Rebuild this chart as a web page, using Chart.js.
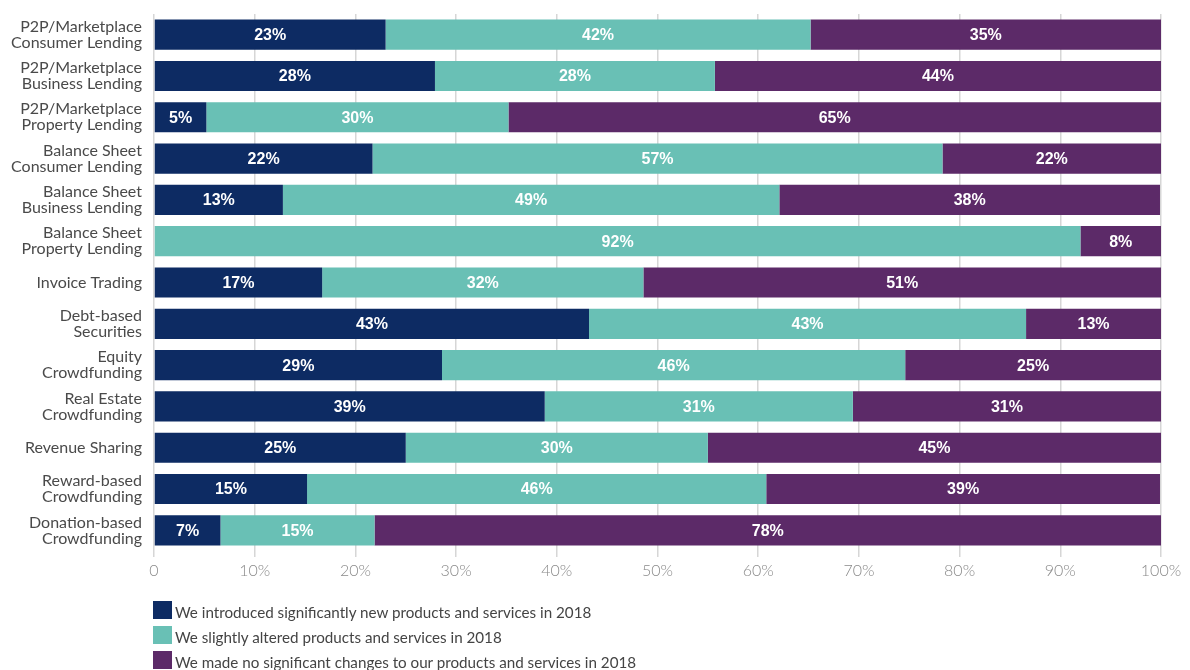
<!DOCTYPE html>
<html>
<head>
<meta charset="utf-8">
<script src="https://cdn.jsdelivr.net/npm/chart.js@4.4.1/dist/chart.umd.min.js"></script>
<style>
  html, body { margin: 0; padding: 0; background: #ffffff; }
  #wrap { position: relative; width: 1190px; height: 670px; overflow: hidden; }
  #legend { position: absolute; left: 153px; top: 597px; font-family: Lato, "Open Sans", sans-serif; font-size: 15.2px; color: #444444; }
  .item { display: flex; align-items: center; height: 25px; }
  .swatch { width: 19px; height: 18px; margin-right: 3px; flex: none; }
  .item span { position: relative; top: 2px; white-space: nowrap; }
</style>
</head>
<body>
<div id="wrap">
  <canvas id="chart" width="1190" height="670"></canvas>
  <div id="legend"></div>
</div>
<script>
// Platform types (multi-line axis labels)
const categories = [
  ['P2P/Marketplace', 'Consumer Lending'],
  ['P2P/Marketplace', 'Business Lending'],
  ['P2P/Marketplace', 'Property Lending'],
  ['Balance Sheet', 'Consumer Lending'],
  ['Balance Sheet', 'Business Lending'],
  ['Balance Sheet', 'Property Lending'],
  'Invoice Trading',
  ['Debt-based', 'Securities'],
  ['Equity', 'Crowdfunding'],
  ['Real Estate', 'Crowdfunding'],
  'Revenue Sharing',
  ['Reward-based', 'Crowdfunding'],
  ['Donation-based', 'Crowdfunding']
];

// Share of respondents (%) per answer
const introducedNew = [23.0, 27.9, 5.2, 21.7, 12.8, 0, 16.7, 43.2, 28.6, 38.8, 25.0, 15.2, 6.6];
const slightlyAltered = [42.2, 27.8, 30.0, 56.6, 49.3, 92.0, 31.9, 43.4, 46.0, 30.6, 30.0, 45.6, 15.3];
const noChanges = [34.8, 44.3, 64.8, 21.7, 37.8, 8.0, 51.4, 13.4, 25.4, 30.6, 45.0, 39.1, 78.1];

const seriesNames = [
  'We introduced significantly new products and services in 2018',
  'We slightly altered products and services in 2018',
  'We made no significant changes to our products and services in 2018'
];
const seriesColors = ['#0d2b63', '#69c0b5', '#5c2a68'];

// x-axis tick values
const xTicks = [0, 10, 20, 30, 40, 50, 60, 70, 80, 90, 100];

// Draws the rounded percentage in the middle of every segment
const segmentLabels = {
  id: 'segmentLabels',
  afterDatasetsDraw(chart) {
    const ctx = chart.ctx;
    ctx.save();
    ctx.font = 'bold 16px "Liberation Sans", Arial, sans-serif';
    ctx.fillStyle = '#ffffff';
    ctx.textAlign = 'center';
    ctx.textBaseline = 'middle';
    chart.data.datasets.forEach((ds, i) => {
      const meta = chart.getDatasetMeta(i);
      meta.data.forEach((bar, j) => {
        const v = ds.data[j];
        if (!v) return;
        const p = bar.getProps(['x', 'y', 'base'], true);
        ctx.fillText(Math.round(v) + '%', (p.x + p.base) / 2, p.y + 1);
      });
    });
    ctx.restore();
  }
};

const chart = new Chart(document.getElementById('chart'), {
  type: 'bar',
  data: {
    labels: categories,
    datasets: [introducedNew, slightlyAltered, noChanges].map((d, i) => ({
      label: seriesNames[i],
      data: d,
      backgroundColor: seriesColors[i],
      borderWidth: 0,
      categoryPercentage: 1,
      barPercentage: 0.73
    }))
  },
  options: {
    indexAxis: 'y',
    responsive: false,
    animation: false,
    devicePixelRatio: 1,
    layout: { padding: { top: 14, right: 29, bottom: 85, left: 0 } },
    plugins: {
      legend: { display: false },
      tooltip: { enabled: false }
    },
    scales: {
      x: {
        stacked: true,
        min: 0,
        max: 100,
        afterBuildTicks(scale) { scale.ticks = xTicks.map(v => ({ value: v })); },
        afterFit(scale) { scale.height = 34; scale.paddingLeft = 0; scale.paddingRight = 0; },
        border: { display: false },
        grid: { color: '#d6d6d6', lineWidth: 1.5, tickLength: 6, drawTicks: true },
        ticks: {
          padding: 4,
          color: '#8a8a8a',
          font: { family: 'Lato, "Open Sans", sans-serif', size: 16, weight: 300 },
          callback: v => v === 0 ? '0' : v + '%'
        }
      },
      y: {
        stacked: true,
        afterFit(scale) { scale.width = 154; scale.paddingTop = 0; scale.paddingBottom = 0; },
        border: { display: false },
        grid: { display: false },
        ticks: {
          padding: 4,
          color: '#4a4a4a',
          font: { family: 'Lato, "Open Sans", sans-serif', size: 16, lineHeight: 1.0 }
        }
      }
    }
  },
  plugins: [segmentLabels]
});

// Legend, one entry per line, built from the chart's datasets
const legend = document.getElementById('legend');
chart.data.datasets.forEach(ds => {
  const row = document.createElement('div');
  row.className = 'item';
  const sw = document.createElement('div');
  sw.className = 'swatch';
  sw.style.background = ds.backgroundColor;
  const txt = document.createElement('span');
  txt.textContent = ds.label;
  row.appendChild(sw);
  row.appendChild(txt);
  legend.appendChild(row);
});
</script>
</body>
</html>
